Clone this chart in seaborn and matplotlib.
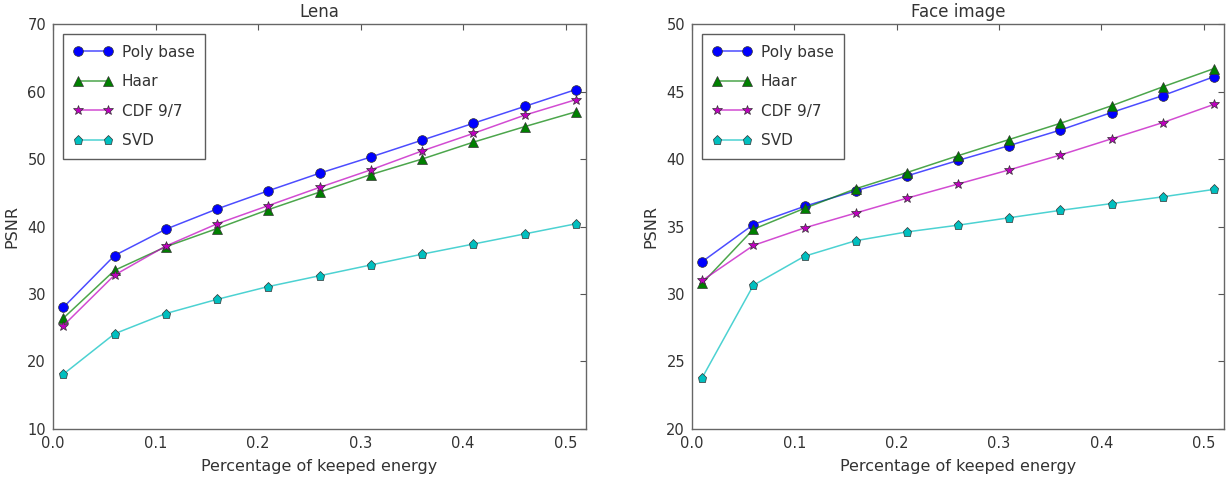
import matplotlib
matplotlib.use("Agg")
import matplotlib.pyplot as plt
import pandas as pd
import seaborn as sns

# ---- data ------------------------------------------------------------------
energy = [0.01, 0.06, 0.11, 0.16, 0.21, 0.26, 0.31, 0.36, 0.41, 0.46, 0.51]
methods = ["Poly base", "Haar", "CDF 9/7", "SVD"]

lena_poly = [28.0, 35.7, 39.6, 42.6, 45.3, 47.9, 50.3, 52.8, 55.3, 57.8, 60.3]
lena_haar = [26.4, 33.5, 37.0, 39.7, 42.5, 45.1, 47.7, 50.0, 52.5, 54.8, 57.0]
lena_cdf = [25.3, 32.8, 37.1, 40.4, 43.1, 45.8, 48.4, 51.2, 53.8, 56.5, 58.8]
lena_svd = [18.1, 24.1, 27.1, 29.2, 31.1, 32.7, 34.3, 35.9, 37.4, 38.9, 40.4]

face_poly = [32.4, 35.15, 36.5, 37.65, 38.75, 39.9, 41.0, 42.15, 43.45, 44.7, 46.1]
face_haar = [30.8, 34.8, 36.35, 37.8, 39.0, 40.25, 41.45, 42.65, 43.95, 45.35, 46.7]
face_cdf = [31.0, 33.6, 34.9, 36.0, 37.1, 38.15, 39.2, 40.3, 41.5, 42.7, 44.05]
face_svd = [23.8, 30.65, 32.8, 33.95, 34.6, 35.1, 35.65, 36.2, 36.7, 37.2, 37.75]

COLORS = {"Poly base": (0.0, 0.0, 1.0), "Haar": (0.0, 0.5, 0.0),
          "CDF 9/7": (0.75, 0.0, 0.75), "SVD": (0.0, 0.75, 0.75)}
MARKERS = {"Poly base": "o", "Haar": "^", "CDF 9/7": "*", "SVD": "p"}
MSIZE = {"Poly base": 7, "Haar": 6.5, "CDF 9/7": 7, "SVD": 6.5}


def long_frame(series):
    rows = []
    for name, vals in zip(methods, series):
        for x, y in zip(energy, vals):
            rows.append({"method": name, "energy": x, "psnr": y})
    return pd.DataFrame(rows)


panels = [
    ("Lena", long_frame([lena_poly, lena_haar, lena_cdf, lena_svd]), (10, 70), [10, 20, 30, 40, 50, 60, 70]),
    ("Face image", long_frame([face_poly, face_haar, face_cdf, face_svd]), (20, 50), [20, 25, 30, 35, 40, 45, 50]),
]

sns.set_style("white")
plt.rcParams["font.family"] = ["DejaVu Sans"]
plt.rcParams.update({
    "xtick.direction": "in", "ytick.direction": "in",
    "xtick.top": True, "ytick.right": True,
    "xtick.major.size": 4, "ytick.major.size": 4,
    "xtick.color": "#555555", "ytick.color": "#555555",
    "xtick.labelcolor": "#333333", "ytick.labelcolor": "#333333",
    "axes.edgecolor": "#666666", "axes.linewidth": 1.0,
    "text.color": "#333333", "axes.labelcolor": "#333333",
})

fig = plt.figure(figsize=(12.27, 4.83), dpi=100)
boxes = [[0.0432, 0.112, 0.4344, 0.838], [0.564, 0.112, 0.4336, 0.838]]

for box, (title, df, ylim, yticks) in zip(boxes, panels):
    ax = fig.add_axes(box)
    for name in methods:
        sub = df[df["method"] == name]
        rgb = COLORS[name]
        sns.lineplot(data=sub, x="energy", y="psnr", ax=ax, color=rgb + (0.7,),
                     marker=MARKERS[name], markersize=MSIZE[name], linewidth=1.1,
                     markerfacecolor=rgb, markeredgecolor="#333333",
                     markeredgewidth=0.5, label=name)
    ax.set_xlim(0, 0.52)
    ax.set_ylim(*ylim)
    ax.set_xticks([0.0, 0.1, 0.2, 0.3, 0.4, 0.5])
    ax.set_yticks(yticks)
    ax.tick_params(labelsize=10.5, pad=5)
    ax.set_xlabel("Percentage of keeped energy", fontsize=11.5, labelpad=6)
    ax.set_ylabel("PSNR", fontsize=11.5, labelpad=6)
    ax.set_title(title, fontsize=12, pad=5)
    leg = ax.legend(loc="upper left", numpoints=2, fontsize=11, fancybox=False,
                    frameon=True, handlelength=2.55, labelspacing=0.95,
                    borderpad=0.7, borderaxespad=0.65, handletextpad=0.6)
    leg.get_frame().set_edgecolor("#333333")
    leg.get_frame().set_linewidth(1.0)

fig.savefig("out.png", dpi=100)
